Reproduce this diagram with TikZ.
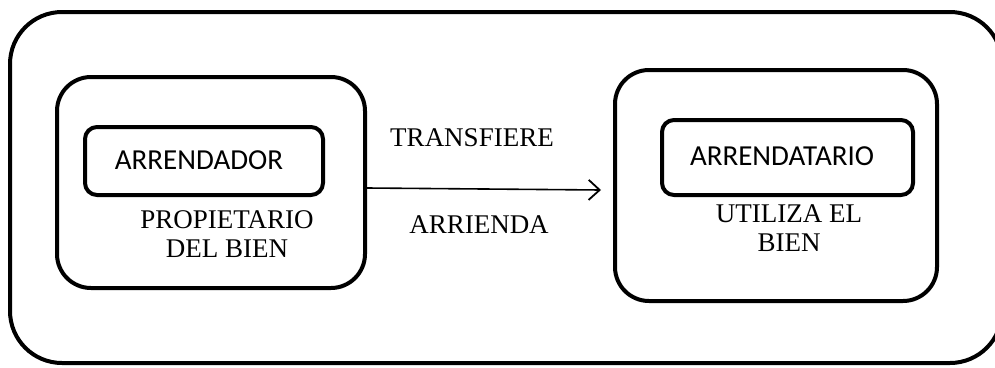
\documentclass[tikz,border=0pt]{standalone}
\usepackage{fontspec}
\setmainfont{Liberation Serif}
\newfontfamily\calib{Carlito}
\usetikzlibrary{arrows.meta}
\begin{document}
\begin{tikzpicture}[x=1pt,y=-1pt,
  outerbox/.style={draw,line width=4pt,rounded corners=52pt,inner sep=0pt},
  groupbox/.style={draw,line width=4pt,rounded corners=34pt,inner sep=0pt},
  rolebox/.style={draw,line width=4pt,rounded corners=12pt,inner sep=0pt},
  roletxt/.style={inner sep=0pt,font=\calib\fontsize{29}{34}\selectfont},
  lbl/.style={font=\fontsize{27}{29}\selectfont,inner sep=0pt,align=center},
  conn/.style={line width=1.6pt,-{Straight Barb[length=11pt,width=20pt,line width=1.8pt]}}]
\useasboundingbox (0,0) rectangle (995,367);
\clip (0,0) rectangle (995,367);
\node[outerbox,minimum width=992pt,minimum height=351pt] (outer) at (506,187.5) {};
% left group
\node[groupbox,minimum width=308pt,minimum height=211pt] (left) at (211,182.5) {};
\node[rolebox,minimum width=238pt,minimum height=68pt] (arr) at (204,161) {};
\node[roletxt] (arrt) at (199,160) {ARRENDADOR};
\node[lbl] (prop) at (227,234.5) {PROPIETARIO\\DEL BIEN};
% right group
\node[groupbox,minimum width=322pt,minimum height=231pt] (right) at (776,185.5) {};
\node[rolebox,minimum width=251pt,minimum height=75pt] (arrd) at (787.5,157.5) {};
\node[roletxt] (arrdt) at (782,156) {ARRENDATARIO};
\node[lbl] (uti) at (789,228.5) {UTILIZA EL\\BIEN};
% arrow
\coordinate (tip) at (601,190);
\draw[conn] ([yshift=-5.5pt]left.east) -- (tip);
\node[lbl,anchor=base] (tr) at (472,146) {TRANSFIERE};
\node[lbl,anchor=base] (ar) at (479,233) {ARRIENDA};
\end{tikzpicture}
\end{document}
